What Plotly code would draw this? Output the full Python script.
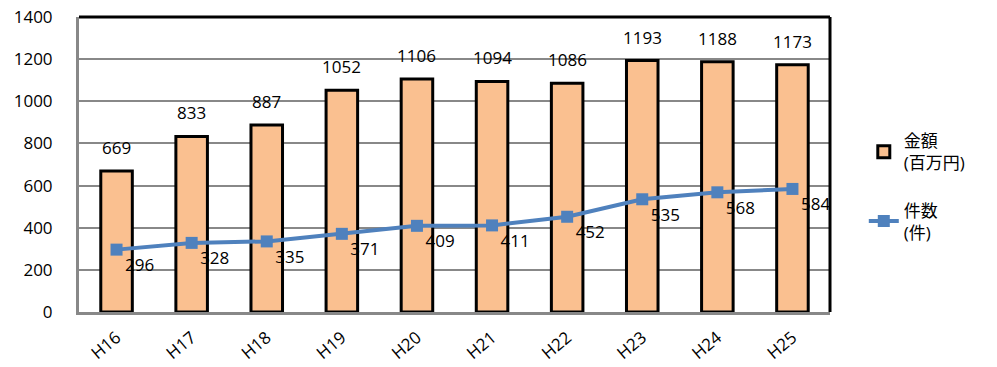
import plotly.graph_objects as go

years = ["H16", "H17", "H18", "H19", "H20", "H21", "H22", "H23", "H24", "H25"]
amount = [669, 833, 887, 1052, 1106, 1094, 1086, 1193, 1188, 1173]  # 金額(百万円)
count = [296, 328, 335, 371, 409, 411, 452, 535, 568, 584]  # 件数(件)

font = "Open Sans, Liberation Sans, Noto Sans CJK JP, sans-serif"

fig = go.Figure()
fig.add_trace(go.Bar(
    x=years, y=amount, name="金額<br>(百万円)", legendgroup="a",
    marker=dict(color="#FAC090", line=dict(color="black", width=3)),
    width=0.42,
))
fig.add_trace(go.Scatter(
    x=years, y=count, name="件数<br>(件)", mode="lines+markers+text", legendgroup="b",
    line=dict(color="#4F81BD", width=4),
    marker=dict(symbol="square", size=12, color="#4F81BD"),
    text=count, textposition="bottom right",
    textfont=dict(size=17, color="black"), cliponaxis=False,
))

# bar value labels above each bar
for yr, v in zip(years, amount):
    fig.add_annotation(x=yr, y=v, text=str(v), showarrow=False, yanchor="bottom",
                       yshift=10, font=dict(size=17, color="black"))

fig.update_layout(
    width=997, height=367,
    margin=dict(l=79, r=167, t=17, b=55),
    paper_bgcolor="white", plot_bgcolor="white",
    font=dict(family=font, size=17, color="black"),
    showlegend=True,
    legend=dict(x=1.045, y=0.64, xanchor="left", yanchor="top",
                font=dict(size=17), tracegroupgap=22),
    xaxis=dict(range=[-0.5, 9.5], tickangle=-40, showline=True, linecolor="#888888",
               linewidth=3, ticks="", tickfont=dict(size=17), automargin=False,
               ticklabelstandoff=6),
    yaxis=dict(range=[0, 1400], dtick=200, showgrid=True, gridcolor="#888888",
               gridwidth=2, showline=True, linecolor="#888888", linewidth=3,
               ticks="", ticklabelstandoff=20,
               tickfont=dict(size=17), zeroline=False, automargin=False),
)
# black frame on top and right
fig.add_shape(type="line", xref="paper", yref="paper", x0=0, x1=1, y0=1, y1=1,
              line=dict(color="black", width=3))
fig.add_shape(type="line", xref="paper", yref="paper", x0=1, x1=1, y0=0, y1=1,
              line=dict(color="black", width=3))

fig.write_html("out.html", config={"displayModeBar": False},
               post_script="document.body.style.margin='0';")
